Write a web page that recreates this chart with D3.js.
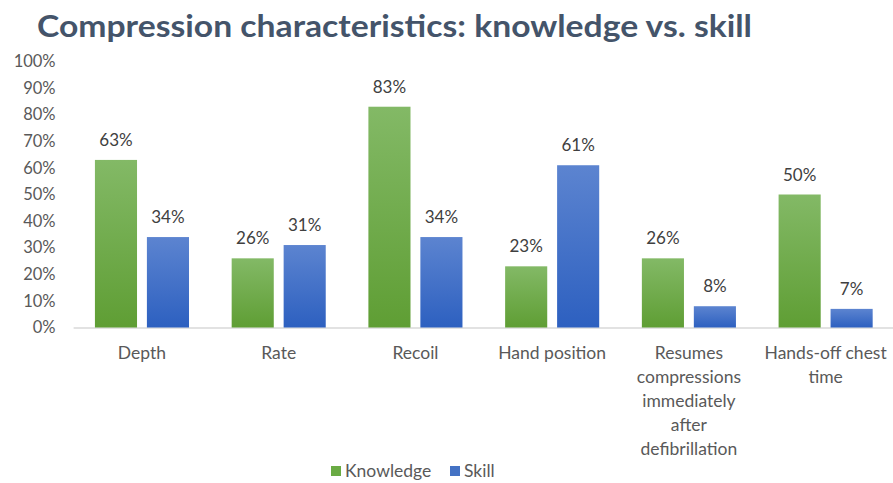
<!DOCTYPE html>
<html>
<head>
<meta charset="utf-8">
<script src="https://cdn.jsdelivr.net/npm/d3@7"></script>
<style>
  body { margin: 0; background: #fff; }
  svg { display: block; font-family: Lato, "Noto Sans", sans-serif; }
</style>
</head>
<body>
<div id="chart-area"></div>
<script>
// chart data
const categories = ['Depth', 'Rate', 'Recoil', 'Hand position',
	'Resumes compressions immediately after defibrillation', 'Hands-off chest time'];
const seriesNames = ['Knowledge', 'Skill'];
const knowledge = [63, 26, 83, 23, 26, 50];
const skill = [34, 31, 34, 61, 8, 7];
const yTicks = [0, 10, 20, 30, 40, 50, 60, 70, 80, 90, 100];

const W = 893, H = 483;
let margin = { left: 73.6, right: -1, top: 61.5, bottom: 155.5 };
let width = W - margin.left - margin.right;
let height = H - margin.top - margin.bottom;

const svg = d3.select('#chart-area').append('svg')
	.attr('width', W)
	.attr('height', H);

// gradients for bars
const defs = svg.append('defs');
const grads = [
	{ id: 'g-know', top: '#83b966', bottom: '#5f9e34' },
	{ id: 'g-skill', top: '#5c84d0', bottom: '#2d60c0' }
];
grads.forEach(gr => {
	let lg = defs.append('linearGradient').attr('id', gr.id)
		.attr('x1', 0).attr('y1', 0).attr('x2', 0).attr('y2', 1);
	lg.append('stop').attr('offset', '0%').attr('stop-color', gr.top);
	lg.append('stop').attr('offset', '100%').attr('stop-color', gr.bottom);
});
const fills = ['url(#g-know)', 'url(#g-skill)'];
const legendColors = ['#6aab44', '#4472c4'];
const catSize = '17.5px';

// title
svg.append('text')
	.attr('x', 37)
	.attr('y', 37)
	.attr('font-size', '31px')
	.attr('font-weight', 'bold')
	.attr('fill', '#44546a')
	.attr('textLength', 715)
	.attr('lengthAdjust', 'spacingAndGlyphs')
	.text('Compression characteristics: knowledge vs. skill');

let g = svg.append('g')
	.attr('transform', 'translate(' + margin.left + ', ' + margin.top + ')');

// scales
let x0 = d3.scaleBand()
	.domain(categories)
	.range([0, width])
	.paddingInner(0.312)
	.paddingOuter(0.156);

let x1 = d3.scaleBand()
	.domain(seriesNames)
	.range([0, x0.bandwidth()])
	.paddingInner(0.19);

let y = d3.scaleLinear()
	.domain([0, 100])
	.range([height, 0]);

// y tick labels
g.selectAll('.y-tick')
	.data(yTicks)
	.enter()
	.append('text')
		.attr('class', 'y-tick')
		.attr('x', -18)
		.attr('y', d => y(d))
		.attr('dy', '0.35em')
		.attr('text-anchor', 'end')
		.attr('font-size', '16.5px')
		.attr('fill', '#595959')
		.text(d => d + '%');

// baseline
g.append('line')
	.attr('x1', 0)
	.attr('x2', width)
	.attr('y1', height + 0.5)
	.attr('y2', height + 0.5)
	.attr('stroke', '#d9d9d9')
	.attr('stroke-width', 1.5);

// bars
const rows = categories.map((c, i) => ({ cat: c, vals: [knowledge[i], skill[i]] }));

let groups = g.selectAll('.grp')
	.data(rows)
	.enter()
	.append('g')
		.attr('class', 'grp')
		.attr('transform', d => 'translate(' + x0(d.cat) + ',0)');

let cells = groups.selectAll('.cell')
	.data(d => d.vals.map((v, j) => ({ series: seriesNames[j], v: v, j: j })))
	.enter();

cells.append('rect')
	.attr('x', d => x1(d.series))
	.attr('y', d => y(d.v))
	.attr('width', x1.bandwidth())
	.attr('height', d => height - y(d.v))
	.attr('fill', d => fills[d.j]);

cells.append('text')
	.attr('x', d => x1(d.series) + x1.bandwidth() / 2)
	.attr('y', d => y(d.v) - 14)
	.attr('text-anchor', 'middle')
	.attr('font-size', '17px')
	.attr('fill', '#404040')
	.text(d => d.v + '%');

// category labels with wrapping
function wrapLines(label, maxW) {
	let words = label.split(' ');
	let lines = [];
	let cur = '';
	let tmp = svg.append('text').attr('font-size', catSize);
	words.forEach(w => {
		let test = cur ? cur + ' ' + w : w;
		tmp.text(test);
		if (tmp.node().getComputedTextLength() > maxW && cur) {
			lines.push(cur);
			cur = w;
		} else {
			cur = test;
		}
	});
	lines.push(cur);
	tmp.remove();
	return lines;
}

categories.forEach(c => {
	let lines = wrapLines(c, 126);
	let t = g.append('text')
		.attr('text-anchor', 'middle')
		.attr('font-size', catSize)
		.attr('fill', '#595959');
	lines.forEach((ln, k) => {
		t.append('tspan')
			.attr('x', x0(c) + x0.bandwidth() / 2)
			.attr('y', height + 31 + k * 24)
			.text(ln);
	});
});

// legend
let legend = svg.append('g');
let lx = [331, 450];
seriesNames.forEach((s, i) => {
	legend.append('rect')
		.attr('x', lx[i])
		.attr('y', 466)
		.attr('width', 10)
		.attr('height', 10)
		.attr('fill', legendColors[i]);
	legend.append('text')
		.attr('x', lx[i] + 14)
		.attr('y', 471)
		.attr('dy', '0.35em')
		.attr('font-size', catSize)
		.attr('fill', '#595959')
		.text(s);
});
</script>
</body>
</html>
